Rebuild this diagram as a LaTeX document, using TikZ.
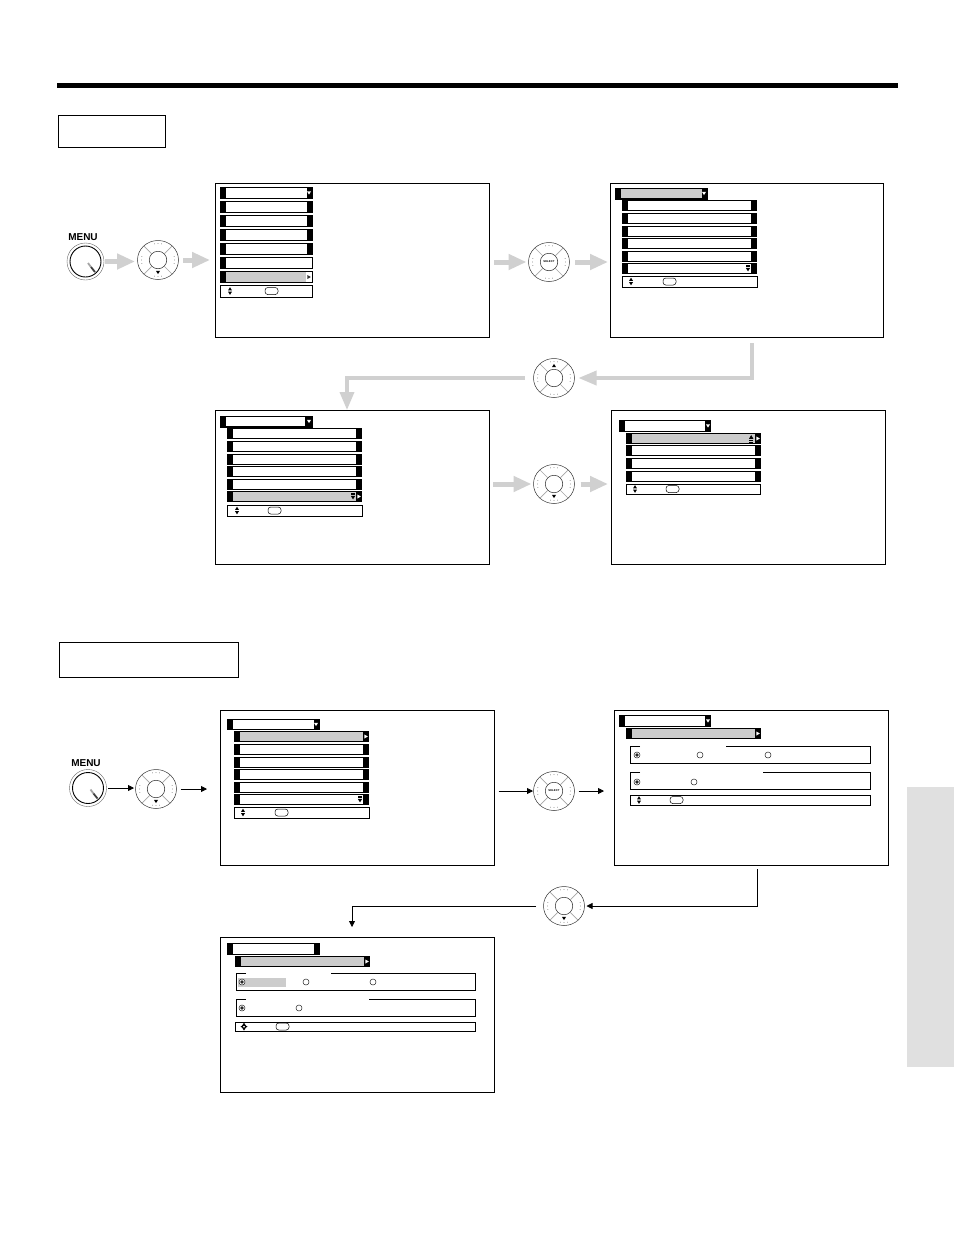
\documentclass[tikz,border=0pt]{standalone}
\usepackage{fontspec}
\setmainfont{Liberation Sans}
\usepackage{tikz}
\usetikzlibrary{positioning,arrows.meta,shapes.geometric,calc}
\definecolor{rowgray}{RGB}{204,204,204}
\definecolor{flowgray}{RGB}{208,208,208}
\definecolor{tabgray}{RGB}{224,224,224}
\definecolor{padgray}{RGB}{165,165,165}
\tikzset{
  screenbox/.style={draw=black, line width=0.8pt, anchor=north west, inner sep=0pt, outer sep=0pt},
  titlebox/.style={draw=black, line width=0.7pt, anchor=north west, inner sep=0pt, outer sep=0pt},
  padbody/.style={ellipse, draw=black!80, line width=0.5pt, minimum width=41pt, minimum height=39pt, inner sep=0pt, outer sep=0pt},
  padcore/.style={circle, draw=black!85, line width=0.5pt, minimum size=17.5pt, inner sep=0pt, font=\bfseries\fontsize{2.8}{3}\selectfont},
  padline/.style={draw=padgray, line width=0.7pt},
  knob/.style={circle, draw=black!60, line width=0.4pt, minimum size=37pt, inner sep=0pt, outer sep=0pt},
  knobring/.style={circle, draw=black, line width=0.9pt, minimum size=31pt, inner sep=0pt},
  knoblabel/.style={font=\bfseries\fontsize{10}{10}\selectfont, inner sep=0pt},
  grayflow/.style={draw=flowgray, line width=5pt, -{Triangle[length=18pt,width=15pt]}},
  graybent/.style={draw=flowgray, line width=3.5pt, -{Triangle[length=18pt,width=14pt]}},
  blackflow/.style={draw=black, line width=0.8pt, -{Triangle[length=6pt,width=6pt]}},
  barline/.style={draw=black, line width=0.8pt},
}
% row of a menu: x, y, width, height
\newcommand{\menurow}[5][white]{%
  \fill[black] (#2,#3) rectangle ++(#4,#5);
  \fill[#1] ($(#2,#3)+(6,1.1)$) rectangle ++(#4-12,#5-2.2);
}
\newcommand{\tridown}[3][white]{\fill[#1] (#2-2,#3-1.6) -- (#2+2,#3-1.6) -- (#2,#3+1.6) -- cycle;}
\newcommand{\triup}[3][black]{\fill[#1] (#2-2,#3+1.6) -- (#2+2,#3+1.6) -- (#2,#3-1.6) -- cycle;}
\newcommand{\triright}[3][white]{\fill[#1] (#2-1.6,#3-2) -- (#2-1.6,#3+2) -- (#2+1.8,#3) -- cycle;}
\newcommand{\scrollmark}[2]{%
  \fill[black] (#1-2.2,#2-4.4) rectangle (#1+2.2,#2-3.6);
  \fill[black] (#1-2.2,#2-2.8) rectangle (#1+2.2,#2-2);
  \fill[black] (#1-2.2,#2-1.2) -- (#1+2.2,#2-1.2) -- (#1,#2+2.4) -- cycle;
}
% help bar: x, y, width, height, oval x, icon x
\newcommand{\helpbar}[6]{%
  \draw[barline, fill=white] (#1,#2) rectangle ++(#3,#4);
  \draw[line width=0.5pt, rounded corners=2.8pt] (#5,#2+#4/2-3.5) rectangle ++(13,7);
  \triup{#6}{#2+#4/2-2.2}
  \tridown[black]{#6}{#2+#4/2+2.2}
}
% option frame with a gap in its top line: x1, x2, y1, y2, gap from, gap to
\newcommand{\optframe}[6]{\draw[barline] (#5,#3) -- (#1,#3) -- (#1,#4) -- (#2,#4) -- (#2,#3) -- (#6,#3);}
\newcommand{\radioempty}[2]{\draw[black!85, line width=0.5pt, fill=white] (#1,#2) circle (3);}
\newcommand{\radioset}[2]{\radioempty{#1}{#2}\fill[black!85] (#1,#2) circle (1.8);}
% detail of a pad: name of its node
\newcommand{\paddetail}[1]{%
  \foreach \ang in {45,135,225,315} \draw[padline] ($(#1)+({-\ang}:8.8)$) -- (#1.\ang);
  \foreach \ang in {0,90,180,270} \foreach \off in {-12,0,12}
    \fill[black!70] ($(#1)+({\ang+\off}:16.5)$) circle (0.4);
}
\begin{document}
\begin{tikzpicture}[x=1pt, y=-1pt]
\useasboundingbox (0,0) rectangle (954,1235);
\fill[white] (0,0) rectangle (954,1235);

% page furniture
\fill[black] (57,83) rectangle (898,88);
\node[titlebox, minimum width=107pt, minimum height=32pt] (titleA) at (58,115) {};
\node[titlebox, minimum width=179pt, minimum height=35pt] (titleB) at (59,642) {};
\node[fill=tabgray, anchor=north west, inner sep=0pt, minimum width=47pt, minimum height=280pt] (sidetab) at (907,787) {};

% screens
\node[screenbox, minimum width=274pt, minimum height=154pt] (screenA) at (215,183) {};
\node[screenbox, minimum width=273pt, minimum height=154pt] (screenB) at (610,183) {};
\node[screenbox, minimum width=274pt, minimum height=154pt] (screenC) at (215,410) {};
\node[screenbox, minimum width=274pt, minimum height=154pt] (screenD) at (611,410) {};
\node[screenbox, minimum width=274.5pt, minimum height=155pt] (screenE) at (220,710) {};
\node[screenbox, minimum width=274pt, minimum height=155pt] (screenF) at (614,710) {};
\node[screenbox, minimum width=274pt, minimum height=155pt] (screenG) at (220,937) {};

% first screen
\foreach \rowy in {187,201,215,229,243} \menurow{220}{\rowy}{93}{12};
\tridown{309}{193}
\menurow{220}{257}{93}{12}
\fill[white] (306,258) rectangle (311.5,268);
\menurow[rowgray]{220}{271}{93}{12}
\fill[white] (306,272) rectangle (311.5,282);
\triright[black!80]{309}{277}
\helpbar{220}{285}{92.5}{12}{265}{230}

% second screen
\menurow[rowgray]{615}{187.5}{93}{12}
\tridown{704}{193.5}
\foreach \rowy in {200,213,226,238,251,263} \menurow{622}{\rowy}{135}{11.2};
\scrollmark{748}{269}
\helpbar{622}{276}{135.5}{11}{663}{631}

% third screen
\menurow{220}{416}{93}{11.5}
\fill[black] (305,417) rectangle (308,426);
\tridown{309}{421.5}
\foreach \rowy in {428,441,454,466,479} \menurow{227}{\rowy}{135}{11};
\menurow[rowgray]{227}{491}{135}{11}
\scrollmark{353}{497}
\triright{359}{496.5}
\helpbar{227}{505}{135.5}{11}{268}{237}

% fourth screen
\menurow{619}{420}{92}{12}
\tridown{708}{426}
\menurow[rowgray]{626}{433}{135}{11}
\triright{758}{438.5}
\fill[black] (749,438.8) -- (753.4,438.8) -- (751.2,435) -- cycle;
\fill[black] (749,440) rectangle (753.4,440.8);
\fill[black] (749,441.6) rectangle (753.4,442.4);
\foreach \rowy in {445,458,471} \menurow{626}{\rowy}{135}{11};
\helpbar{626}{484}{134.5}{10}{666}{635}

% fifth screen
\menurow{227}{719}{93}{11}
\tridown{316}{724.5}
\menurow[rowgray]{234}{731}{135}{11}
\triright{366}{736.5}
\foreach \rowy in {744,757,769,782,794} \menurow{234}{\rowy}{135}{11};
\scrollmark{360}{800}
\helpbar{234}{807}{135.5}{11}{275}{243}

% sixth screen
\menurow{619}{715}{92}{12}
\tridown{708}{721}
\menurow[rowgray]{626}{728}{135}{11}
\triright{758}{733.5}
\optframe{630}{870}{746}{763}{640}{726}
\radioset{637}{755}
\radioempty{700}{755}
\radioempty{768}{755}
\optframe{630}{870}{772}{789}{640}{763}
\radioset{637}{782}
\radioempty{694}{782}
\helpbar{630}{795}{240}{10}{670}{639}

% seventh screen
\menurow{227}{943}{93}{12}
\menurow[rowgray]{235}{956}{135}{11}
\triright{367}{961.5}
\optframe{236}{475.5}{973}{990}{246}{331}
\fill[rowgray] (238,978) rectangle (286,987);
\radioset{242}{982}
\radioempty{306}{982}
\radioempty{373}{982}
\optframe{236}{475.5}{999}{1016}{246}{369}
\radioset{242}{1008}
\radioempty{299}{1008}
\draw[barline] (235,1022) rectangle (475.5,1031);
\draw[line width=0.5pt, rounded corners=2.8pt] (276,1023) rectangle ++(13,7);
\triup{244}{1024.2}
\tridown[black]{244}{1029}
\fill[black] (240.5,1026.6) -- (243.2,1025) -- (243.2,1028.2) -- cycle;
\fill[black] (247.5,1026.6) -- (244.8,1025) -- (244.8,1028.2) -- cycle;

% upper remote buttons
\node[knob] (knobA) at (85.5,261.5) {};
\node[knobring] (ringA) at (knobA) {};
\node[knoblabel, above=2.5pt of knobA, xshift=-2.5pt] (labelA) {MENU};
\draw[padgray, line width=1.8pt] (88,263) -- (91,267);
\draw[black!75, line width=1.8pt] (91,267) -- (95,272);
\node[padbody] (padA) at (158,260) {};
\node[padcore] (coreA) at (padA) {};
\paddetail{padA}
\tridown[black]{158}{272.5}
\node[padbody] (padB) at (549,262) {};
\node[padcore] (coreB) at (padB) {SELECT};
\paddetail{padB}
\node[padbody] (padC) at (554,378) {};
\node[padcore] (coreC) at (padC) {};
\paddetail{padC}
\triup{554}{365.5}
\node[padbody] (padD) at (554,484) {};
\node[padcore] (coreD) at (padD) {};
\paddetail{padD}
\tridown[black]{554}{496.5}

% lower remote buttons
\node[knob] (knobB) at (88,788) {};
\node[knobring] (ringB) at (knobB) {};
\node[knoblabel, above=2.5pt of knobB, xshift=-2pt] (labelB) {MENU};
\draw[padgray, line width=1.8pt] (90.5,789.5) -- (93.5,793.5);
\draw[black!75, line width=1.8pt] (93.5,793.5) -- (97.5,798.5);
\node[padbody] (padE) at (156,789) {};
\node[padcore] (coreE) at (padE) {};
\paddetail{padE}
\tridown[black]{156}{801.5}
\node[padbody] (padF) at (554,791) {};
\node[padcore] (coreF) at (padF) {SELECT};
\paddetail{padF}
\node[padbody] (padG) at (564,906) {};
\node[padcore] (coreG) at (padG) {};
\paddetail{padG}
\tridown[black]{564}{918.5}

% gray flow
\draw[grayflow, shorten >=2.5pt, shorten <=1pt] (knobA.east) -- (padA.west |- knobA);
\draw[grayflow, shorten >=5pt, shorten <=4.5pt] (padA.east) -- (screenA.west |- padA);
\draw[grayflow, shorten >=2pt, shorten <=5pt] (screenA.east |- padB) -- (padB.west);
\draw[grayflow, shorten >=2pt, shorten <=5.5pt] (padB.east) -- (screenB.west |- padB);
\coordinate (turnA) at (752,378);
\coordinate (turnB) at (347,378);
\draw[graybent, shorten >=4pt, shorten <=6pt] (screenB.south -| turnA) -- (turnA) -- (padC.east);
\draw[graybent, shorten <=9pt] (padC.west) -- (turnB) -- (screenC.north -| turnB);
\draw[grayflow, shorten >=2pt, shorten <=4pt] (screenC.east |- padD) -- (padD.west);
\draw[grayflow, shorten >=3pt, shorten <=6pt] (padD.east) -- (screenD.west |- padD);

% black flow
\draw[blackflow, shorten >=1.5pt, shorten <=1.5pt] (knobB.east) -- (padE.west |- knobB);
\draw[blackflow, shorten >=13pt, shorten <=4pt] (padE.east) -- (screenE.west |- padE);
\draw[blackflow, shorten >=0.5pt, shorten <=4pt] (screenE.east |- padF) -- (padF.west);
\draw[blackflow, shorten >=10pt, shorten <=4pt] (padF.east) -- (screenF.west |- padF);
\coordinate (turnC) at (757,906);
\coordinate (turnD) at (352,906);
\draw[blackflow, shorten >=2pt, shorten <=4pt] (screenF.south -| turnC) -- (turnC) -- (padG.east);
\draw[blackflow, shorten >=10pt, shorten <=7.5pt] (padG.west) -- (turnD) -- (screenG.north -| turnD);
\end{tikzpicture}
\end{document}
